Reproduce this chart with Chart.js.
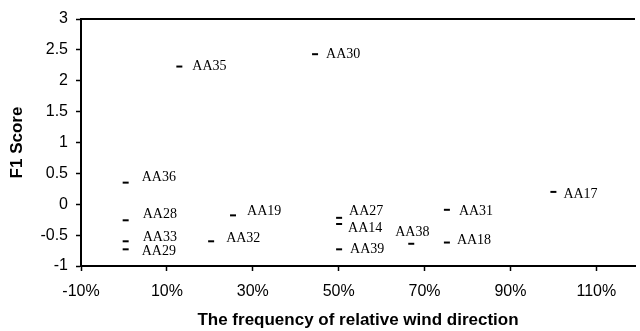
<!DOCTYPE html>
<html>
<head>
<meta charset="utf-8">
<script src="https://cdn.jsdelivr.net/npm/chart.js@4/dist/chart.umd.min.js"></script>
<style>
  html, body { margin: 0; padding: 0; background: #fff; }
  canvas { display: block; }
</style>
</head>
<body>
<canvas id="myChart" width="640" height="331"></canvas>
<script>
// site names, relative wind direction frequency (%) and F1 score
const sites = ['AA35', 'AA30', 'AA36', 'AA28', 'AA33', 'AA29', 'AA19', 'AA32', 'AA27', 'AA14', 'AA39', 'AA38', 'AA31', 'AA18', 'AA17'];
const freq = [12.9, 44.5, 0.4, 0.4, 0.4, 0.4, 25.4, 20.3, 50.1, 50.1, 50.1, 66.9, 75.2, 75.2, 100];
const f1 = [2.23, 2.43, 0.35, -0.26, -0.60, -0.73, -0.18, -0.60, -0.22, -0.32, -0.73, -0.64, -0.09, -0.62, 0.20];
const xTicks = [-10, 10, 30, 50, 70, 90, 110];

// where each site label sits relative to its marker
const labelShift = {
    AA35: [13, 0], AA30: [11, 0], AA36: [16, -5], AA28: [17, -6], AA33: [17, -4],
    AA29: [16, 2], AA19: [14, -4], AA32: [15, -3], AA27: [10, -7], AA14: [9, 4],
    AA39: [11, 0], AA38: [-16, -11], AA31: [12, 2], AA18: [10, -2], AA17: [10, 2]
};

const points = sites.map((s, i) => ({ x: freq[i], y: f1[i], name: s }));

const siteLabels = {
    id: 'siteLabels',
    afterDatasetsDraw(chart) {
        const ctx = chart.ctx;
        const meta = chart.getDatasetMeta(0);
        ctx.save();
        ctx.font = '14px "Liberation Serif", "Times New Roman", serif';
        ctx.fillStyle = '#000';
        ctx.textAlign = 'left';
        ctx.textBaseline = 'middle';
        meta.data.forEach((el, i) => {
            const d = labelShift[sites[i]] || [10, 0];
            ctx.fillText(sites[i], el.x + d[0], el.y + d[1]);
        });
        ctx.restore();
    }
};

const topLine = {
    id: 'topLine',
    afterDraw(chart) {
        const a = chart.chartArea;
        const ctx = chart.ctx;
        ctx.save();
        ctx.strokeStyle = '#000';
        ctx.lineWidth = 2;
        ctx.beginPath();
        ctx.moveTo(a.left, a.top);
        ctx.lineTo(a.right, a.top);
        ctx.stroke();
        ctx.restore();
    }
};

const tickFont = { family: '"Liberation Sans", Arial, sans-serif', size: 16 };
const titleFont = { family: '"Liberation Sans", Arial, sans-serif', size: 17, weight: 'bold' };

new Chart(document.getElementById('myChart'), {
    type: 'scatter',
    data: {
        datasets: [{
            data: points,
            pointStyle: 'line',
            radius: 3,
            hoverRadius: 3,
            borderWidth: 2,
            borderColor: '#000',
            backgroundColor: '#000'
        }]
    },
    options: {
        responsive: false,
        animation: false,
        layout: { padding: { top: 19, right: 0, bottom: 0, left: 0 } },
        plugins: { legend: { display: false }, tooltip: { enabled: false } },
        scales: {
            x: {
                type: 'linear',
                min: -10,
                max: 119,
                afterBuildTicks: (scale) => { scale.ticks = xTicks.map(v => ({ value: v })); },
                afterFit: (scale) => { scale.height = 65; },
                ticks: { color: '#000', font: tickFont, padding: 11, callback: v => v + '%' },
                grid: { drawOnChartArea: false, color: '#000', tickLength: 5, tickWidth: 1.5 },
                border: { display: true, color: '#000', width: 2 },
                title: { display: true, text: 'The frequency of relative wind direction', color: '#000', font: titleFont, padding: { top: 0, bottom: 0 } }
            },
            y: {
                min: -1,
                max: 3,
                afterFit: (scale) => { scale.width = 81; },
                ticks: { stepSize: 0.5, color: '#000', font: tickFont, padding: 8, callback: v => String(v) },
                grid: { drawOnChartArea: false, color: '#000', tickLength: 5, tickWidth: 1.5 },
                border: { display: true, color: '#000', width: 2 },
                title: { display: true, text: 'F1 Score', color: '#000', font: titleFont, padding: { top: 7, bottom: 7 } }
            }
        }
    },
    plugins: [siteLabels, topLine]
});
</script>
</body>
</html>
